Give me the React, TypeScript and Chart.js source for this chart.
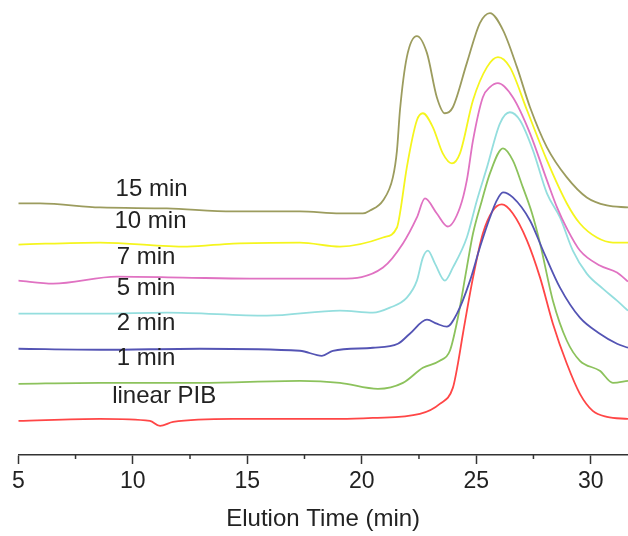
import React, { useEffect, useRef } from "react";
import { Chart, registerables } from "chart.js";

Chart.register(...registerables);

// Elution time (min) and detector signal (offset traces, arbitrary units)
const time15 = [5.0, 5.95, 8.57, 11.49, 14.38, 17.3, 19.05, 20.05, 20.36, 20.93, 21.36, 21.54, 21.67, 21.97, 22.41, 22.85, 23.28, 23.63, 23.98, 24.59, 25.16, 25.6, 26.17, 26.78, 27.35, 28.09, 28.96, 29.83, 30.71, 31.63];
const sig15 = [251, 251, 247, 246, 243, 243, 241, 241, 244, 254, 277, 304, 344, 397, 418, 401, 357, 341, 347, 391, 431, 441, 424, 387, 347, 307, 277, 257, 249, 247];

const time10 = [5.0, 8.57, 12.37, 14.38, 17.3, 19.05, 20.93, 21.54, 21.67, 21.97, 22.41, 22.67, 23.11, 23.54, 23.94, 24.29, 24.86, 25.47, 25.95, 26.47, 27.22, 28.09, 28.96, 29.53, 30.27, 30.97, 31.63];
const sig10 = [210, 212, 208, 211, 212, 208, 217, 227, 241, 287, 334, 341, 327, 301, 291, 301, 354, 387, 397, 387, 344, 294, 251, 231, 217, 212, 212];

const time7 = [5.0, 6.52, 9.31, 12.19, 15.12, 19.05, 20.93, 21.8, 22.41, 22.76, 23.28, 23.76, 24.29, 24.59, 24.86, 25.29, 25.6, 25.95, 26.6, 27.35, 28.09, 28.53, 28.96, 29.53, 30.4, 31.15, 31.63];
const sig7 = [174, 171, 178, 177, 176, 176, 187, 211, 237, 256, 241, 228, 247, 274, 314, 357, 367, 371, 357, 321, 274, 247, 226, 204, 189, 182, 173];

const time5 = [5.0, 8.57, 11.49, 15.86, 19.05, 20.49, 21.23, 21.97, 22.41, 22.67, 22.89, 23.2, 23.63, 23.98, 24.59, 25.03, 25.47, 26.04, 26.47, 26.91, 27.48, 28.09, 28.66, 29.22, 29.83, 30.53, 31.15, 31.63];
const sig5 = [141, 141, 142, 139, 144, 142, 147, 157, 174, 197, 204, 191, 174, 187, 217, 254, 287, 331, 342, 334, 304, 261, 237, 204, 181, 166, 154, 144];

const time2 = [5.0, 8.57, 12.93, 17.3, 18.26, 18.74, 20.49, 21.58, 22.1, 22.85, 23.28, 23.72, 24.16, 24.73, 25.16, 25.6, 25.9, 26.17, 26.6, 27.35, 27.92, 28.66, 29.53, 30.4, 31.15, 31.63];
const sig2 = [106, 105, 106, 104, 99, 104, 107, 111, 121, 135, 131, 128, 141, 174, 207, 237, 254, 262, 257, 234, 204, 167, 137, 121, 111, 107];

const time1 = [5.0, 8.57, 12.93, 17.3, 19.05, 20.71, 21.8, 22.67, 23.41, 23.85, 24.2, 24.59, 24.86, 25.25, 25.6, 26.17, 26.6, 27.04, 27.44, 27.79, 28.35, 28.96, 29.53, 30.4, 30.97, 31.63];
const sig1 = [71, 72, 72, 74, 72, 66, 72, 87, 94, 104, 137, 187, 221, 254, 281, 306, 294, 267, 241, 211, 154, 114, 94, 84, 72, 74];

const timeLin = [5.0, 8.57, 10.75, 11.19, 11.76, 14.38, 19.05, 20.49, 22.54, 23.41, 23.98, 24.2, 24.42, 24.86, 25.29, 25.73, 26.12, 26.6, 27.22, 27.79, 28.35, 28.96, 29.53, 30.09, 30.71, 31.63];
const sigLin = [34, 36, 34, 29, 33, 36, 36, 37, 41, 51, 67, 91, 121, 177, 221, 244, 250, 241, 214, 177, 131, 91, 61, 44, 38, 36];

const seriesNames = ["15 min", "10 min", "7 min", "5 min", "2 min", "1 min", "linear PIB"];
const seriesTimes = [time15, time10, time7, time5, time2, time1, timeLin];
const seriesSignals = [sig15, sig10, sig7, sig5, sig2, sig1, sigLin];
const seriesColors = ["#9c9c5e", "#f5f51e", "#e072c2", "#94dede", "#5454b4", "#8cc25c", "#ff4646"];

// Trace labels (data coordinates)
const labelX = [9.25, 9.2, 9.3, 9.3, 9.3, 9.3, 9.1];
const labelY = [265, 233, 197, 166, 131, 96, 58];

const majorTicks = [5, 10, 15, 20, 25, 30];
const minorTicks = [7.5, 12.5, 17.5, 22.5, 27.5];

const FONT = "'Liberation Sans', Arial, Helvetica, sans-serif";

export default function App() {
  const ref = useRef<HTMLCanvasElement | null>(null);

  useEffect(() => {
    if (!ref.current) return;

    const labelPlugin = {
      id: "traceLabels",
      afterDatasetsDraw(chart: any) {
        const { ctx, scales } = chart;
        ctx.save();
        ctx.font = `24px ${FONT}`;
        ctx.fillStyle = "#222";
        ctx.textAlign = "left";
        ctx.textBaseline = "middle";
        seriesNames.forEach((name, i) => {
          ctx.fillText(name, scales.x.getPixelForValue(labelX[i]), scales.y.getPixelForValue(labelY[i]));
        });
        ctx.restore();
      },
    };

    const minorTickPlugin = {
      id: "minorTicks",
      afterDraw(chart: any) {
        const { ctx, scales, chartArea } = chart;
        ctx.save();
        ctx.strokeStyle = "#333";
        ctx.lineWidth = 1.5;
        minorTicks.forEach((v) => {
          const px = scales.x.getPixelForValue(v);
          if (px < chartArea.left || px > chartArea.right) return;
          ctx.beginPath();
          ctx.moveTo(px, chartArea.bottom);
          ctx.lineTo(px, chartArea.bottom + 4);
          ctx.stroke();
        });
        ctx.restore();
      },
    };

    const chart = new Chart(ref.current, {
      type: "line",
      data: {
        datasets: seriesNames.map((name, i) => ({
          label: name,
          data: seriesTimes[i].map((t, j) => ({ x: t, y: seriesSignals[i][j] })),
          borderColor: seriesColors[i],
          borderWidth: 1.8,
          pointRadius: 0,
          fill: false,
          cubicInterpolationMode: "monotone" as const,
        })),
      },
      options: {
        animation: false,
        responsive: false,
        devicePixelRatio: 1,
        layout: { padding: { left: 18.3, right: 0, top: 0, bottom: 0 } },
        plugins: { legend: { display: false }, tooltip: { enabled: false } },
        scales: {
          x: {
            type: "linear",
            position: "bottom",
            min: 5,
            max: 31.63,
            afterBuildTicks: (scale: any) => {
              scale.ticks = majorTicks.map((v) => ({ value: v }));
            },
            grid: {
              display: true,
              drawOnChartArea: false,
              drawTicks: true,
              tickLength: 9,
              tickColor: "#333",
              tickWidth: 1.5,
            },
            border: { display: true, color: "#333", width: 1.5 },
            ticks: {
              font: { family: FONT, size: 23 },
              color: "#222",
              padding: 4,
              maxRotation: 0,
              autoSkip: false,
            },
            title: {
              display: true,
              text: "Elution Time (min)",
              font: { family: FONT, size: 24 },
              color: "#222",
              padding: { top: 5.4, bottom: 2.2 },
            },
          },
          y: {
            display: false,
            min: 0,
            max: 454,
          },
        },
      },
      plugins: [labelPlugin, minorTickPlugin],
    });

    return () => chart.destroy();
  }, []);

  return (
    <div style={{ position: "fixed", left: 0, top: 0, width: 628, height: 536, background: "#fff" }}>
      <canvas ref={ref} width={628} height={536} />
    </div>
  );
}
